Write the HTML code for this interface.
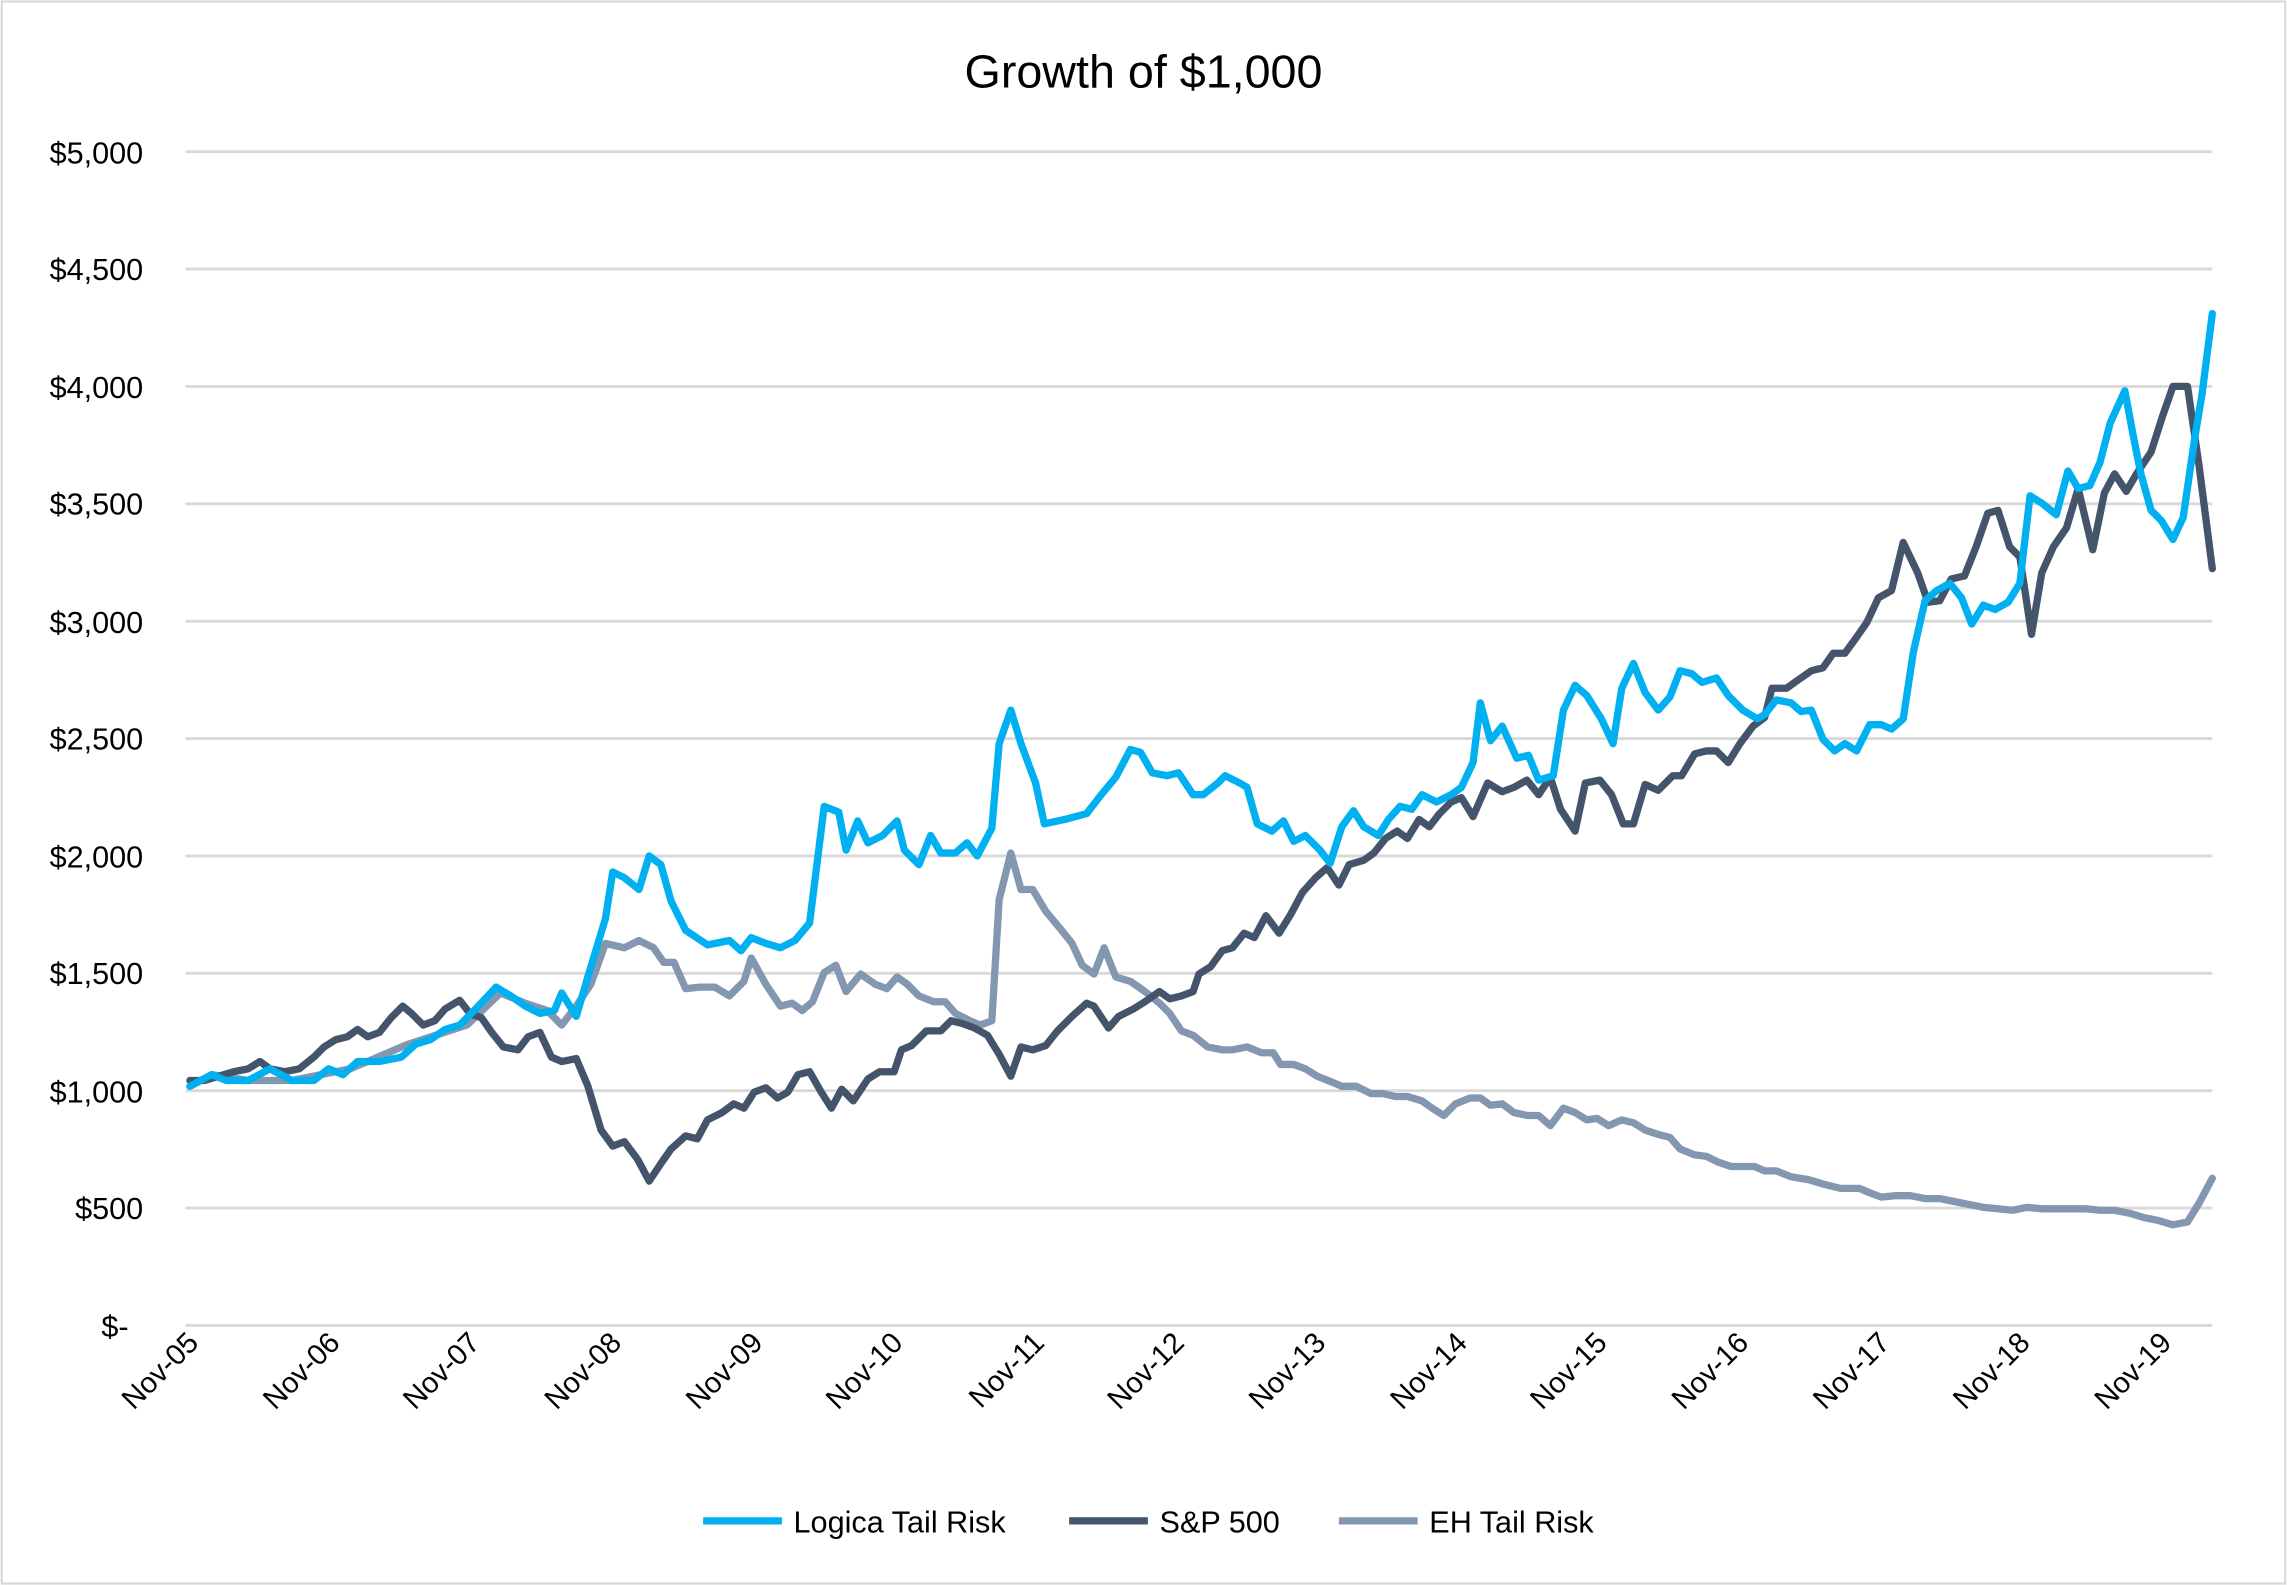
<!DOCTYPE html>
<html><head><meta charset="utf-8"><style>
html,body{margin:0;padding:0;background:#fff;}
svg{display:block;font-family:"Liberation Sans",sans-serif;}
</style></head><body>
<svg width="2287" height="1585" viewBox="0 0 1568 1087" xmlns="http://www.w3.org/2000/svg">
<rect x="1" y="1" width="1566" height="1085" fill="#fff" stroke="#d9d9d9" stroke-width="1.5"/>
<text x="784" y="60" font-size="32" text-anchor="middle" fill="#000">Growth of $1,000</text>
<g stroke="#d9d9d9" stroke-width="2">
<line x1="127" x2="1517" y1="104" y2="104"/><line x1="127" x2="1517" y1="184.5" y2="184.5"/>
<line x1="127" x2="1517" y1="265" y2="265"/><line x1="127" x2="1517" y1="345.5" y2="345.5"/>
<line x1="127" x2="1517" y1="426" y2="426"/><line x1="127" x2="1517" y1="506.5" y2="506.5"/>
<line x1="127" x2="1517" y1="587" y2="587"/><line x1="127" x2="1517" y1="667.5" y2="667.5"/>
<line x1="127" x2="1517" y1="748" y2="748"/><line x1="127" x2="1517" y1="828.5" y2="828.5"/>
<line x1="127" x2="1517" y1="909" y2="909"/>
</g>
<g font-size="21" text-anchor="end" fill="#000">
<text x="98" y="112">$5,000</text><text x="98" y="192">$4,500</text><text x="98" y="273">$4,000</text>
<text x="98" y="353">$3,500</text><text x="98" y="434">$3,000</text><text x="98" y="514">$2,500</text>
<text x="98" y="595">$2,000</text><text x="98" y="675">$1,500</text><text x="98" y="756">$1,000</text>
<text x="98" y="836">$500</text><text x="88" y="917">$-</text>
</g>
<g font-size="20" text-anchor="end" fill="#000">
<text transform="translate(137,922) rotate(-45)">Nov-05</text>
<text transform="translate(234,922) rotate(-45)">Nov-06</text>
<text transform="translate(330,922) rotate(-45)">Nov-07</text>
<text transform="translate(427,922) rotate(-45)">Nov-08</text>
<text transform="translate(524,922) rotate(-45)">Nov-09</text>
<text transform="translate(620,922) rotate(-45)">Nov-10</text>
<text transform="translate(717,922) rotate(-45)">Nov-11</text>
<text transform="translate(813,922) rotate(-45)">Nov-12</text>
<text transform="translate(910,922) rotate(-45)">Nov-13</text>
<text transform="translate(1007,922) rotate(-45)">Nov-14</text>
<text transform="translate(1103,922) rotate(-45)">Nov-15</text>
<text transform="translate(1200,922) rotate(-45)">Nov-16</text>
<text transform="translate(1297,922) rotate(-45)">Nov-17</text>
<text transform="translate(1393,922) rotate(-45)">Nov-18</text>
<text transform="translate(1490,922) rotate(-45)">Nov-19</text>
</g>
<g fill="none" stroke-width="5" stroke-linejoin="round" stroke-linecap="round">
<polyline stroke="#8497B0" points="130,745 145,737 170,741 200,741 240,733 280,716 320,703 343,681 360,688 375,693 385,703 395,690 405,675 415,647 428,650 438,645 448,650 455,660 462,660 470,678 480,677 490,677 500,683 510,673 515,657 525,675 535,690 543,688 550,693 557,687 565,667 573,662 580,680 590,668 600,675 608,678 615,670 622,675 630,683 640,687 648,687 655,695 665,700 672,703 680,700 685,617 693,585 700,610 708,610 717,625 727,637 735,647 742,662 750,668 757,650 765,670 775,673 785,680 795,688 802,695 810,707 818,710 828,718 838,720 845,720 855,718 865,722 873,722 878,730 887,730 895,733 903,738 913,742 920,745 930,745 940,750 948,750 957,752 965,752 975,755 982,760 990,765 998,757 1008,753 1015,753 1022,758 1030,757 1038,763 1047,765 1055,765 1063,772 1072,760 1080,763 1088,768 1095,767 1103,772 1112,768 1120,770 1128,775 1137,778 1145,780 1152,788 1162,792 1170,793 1178,797 1187,800 1195,800 1203,800 1210,803 1218,803 1228,807 1240,809 1250,812 1262,815 1275,815 1282,818 1290,821 1300,820 1310,820 1320,822 1330,822 1340,824 1350,826 1360,828 1370,829 1380,830 1390,828 1400,829 1420,829 1430,829 1440,830 1450,830 1460,832 1470,835 1480,837 1490,840 1500,838 1508,825 1517,808"/>
<polyline stroke="#44546A" points="130,741 140,741 150,738 160,735 170,733 178,728 185,733 195,735 205,733 215,725 222,718 230,713 238,711 245,706 252,711 260,708 268,698 276,690 282,695 290,703 298,700 305,692 315,686 322,695 330,698 337,708 345,718 355,720 362,711 370,708 378,725 385,728 395,726 403,745 412,775 420,786 428,783 437,795 445,810 453,798 460,788 470,779 478,781 485,768 495,763 503,757 510,760 517,749 525,746 533,753 540,749 547,737 555,735 563,749 570,760 577,747 585,755 595,740 603,735 613,735 618,720 625,717 635,707 645,707 652,700 660,702 668,705 677,710 685,723 693,738 700,718 708,720 717,717 725,707 735,697 745,688 750,690 760,705 767,697 777,692 785,687 795,680 802,685 810,683 818,680 822,668 830,663 838,652 845,650 853,640 860,643 868,628 877,640 885,627 893,612 902,602 910,595 918,607 925,593 935,590 942,585 950,575 958,570 965,575 973,562 980,567 987,558 995,550 1002,547 1010,560 1020,537 1030,543 1038,540 1047,535 1055,545 1063,533 1070,555 1080,570 1087,537 1097,535 1105,545 1113,565 1120,565 1128,538 1137,542 1147,532 1153,532 1162,517 1170,515 1177,515 1185,523 1193,510 1202,498 1210,492 1215,472 1225,472 1232,467 1242,460 1250,458 1257,448 1265,448 1273,437 1280,427 1288,410 1297,405 1305,372 1315,393 1322,413 1330,412 1338,397 1347,395 1355,375 1363,352 1370,350 1378,375 1385,382 1393,435 1400,393 1408,375 1417,362 1425,335 1435,377 1443,338 1450,325 1458,337 1465,325 1475,310 1483,285 1490,265 1500,265 1508,320 1517,390"/>
<polyline stroke="#00B0F0" points="130,745 145,737 155,741 170,741 185,733 200,741 215,741 225,733 235,737 245,728 260,728 275,725 285,716 295,713 305,706 315,703 325,693 340,677 350,683 360,690 370,695 380,693 385,681 395,697 405,663 415,630 420,598 428,602 438,610 445,587 453,593 460,618 470,638 485,648 500,645 508,652 515,643 525,647 535,650 545,645 555,633 565,553 575,557 580,583 588,563 595,578 605,573 615,563 620,583 630,593 638,573 645,585 655,585 663,578 670,587 680,568 685,510 693,487 700,510 710,537 716,565 730,562 745,558 755,545 765,533 775,514 782,516 790,530 800,532 808,530 818,545 825,545 835,537 840,532 850,537 855,540 862,565 872,570 880,563 887,577 895,573 905,583 912,592 920,567 928,556 935,567 945,573 952,562 960,553 968,555 975,545 985,550 995,545 1002,540 1010,523 1015,482 1022,508 1030,498 1040,520 1048,518 1055,535 1065,532 1072,487 1080,470 1088,477 1098,493 1106,510 1112,472 1120,455 1128,475 1137,487 1145,478 1152,460 1160,462 1167,468 1177,465 1185,477 1195,487 1205,493 1210,490 1218,480 1228,482 1235,488 1242,487 1250,507 1258,515 1265,510 1273,515 1282,497 1290,497 1297,500 1305,493 1312,447 1320,412 1328,405 1337,400 1345,410 1352,428 1360,415 1368,418 1377,413 1385,400 1392,340 1400,345 1410,353 1418,323 1425,335 1433,333 1440,317 1447,290 1457,268 1463,300 1468,325 1475,350 1482,357 1490,370 1497,355 1505,300 1510,270 1517,215"/>
</g>
<g font-size="21" fill="#000">
<line x1="482" x2="536" y1="1043" y2="1043" stroke="#00B0F0" stroke-width="5"/>
<text x="544" y="1051">Logica Tail Risk</text>
<line x1="733" x2="787" y1="1043" y2="1043" stroke="#44546A" stroke-width="5"/>
<text x="795" y="1051">S&amp;P 500</text>
<line x1="918" x2="972" y1="1043" y2="1043" stroke="#8497B0" stroke-width="5"/>
<text x="980" y="1051">EH Tail Risk</text>
</g>
</svg>
</body></html>
